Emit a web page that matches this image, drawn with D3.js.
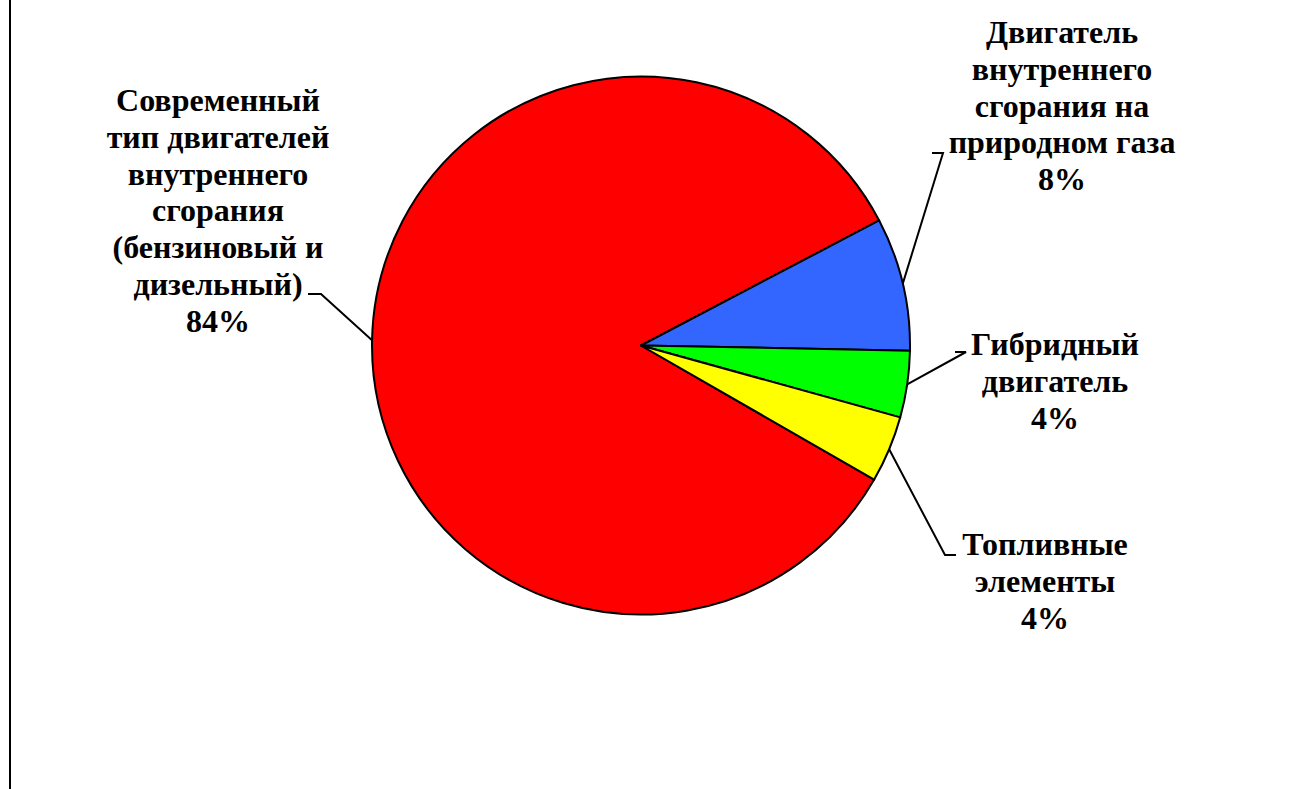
<!DOCTYPE html>
<html>
<head>
<meta charset="utf-8">
<script src="https://cdn.jsdelivr.net/npm/d3@7"></script>
<style>
  html, body { margin: 0; padding: 0; background: #fff; }
  svg { display: block; }
</style>
</head>
<body>
<svg id="chart" width="1309" height="789"></svg>
<script>
// Share of engine types
const categories = [
  "Современный тип двигателей внутреннего сгорания (бензиновый и дизельный)",
  "Двигатель внутреннего сгорания на природном газа",
  "Гибридный двигатель",
  "Топливные элементы"
];
const shares = [84, 8, 4, 4];
const labelLines = [
  ["Современный", "тип двигателей", "внутреннего", "сгорания", "(бензиновый и", "дизельный)"],
  ["Двигатель", "внутреннего", "сгорания на", "природном газа"],
  ["Гибридный", "двигатель"],
  ["Топливные", "элементы"]
];
const sliceColors = ["#FF0000", "#3366FF", "#00FF00", "#FFFF00"];

// Label placement: text centre, first baseline, leader elbow and tail end
const labelLayout = [
  { cx: 218, y0: 111, elbow: [321, 294], tail: 308 },
  { cx: 1062, y0: 43, elbow: [943, 153], tail: 932 },
  { cx: 1055, y0: 355, elbow: [966, 352], tail: 955 },
  { cx: 1045, y0: 555, elbow: [945, 555], tail: 956 }
];

const svg = d3.select("#chart");
const cx = 641, cy = 345.5, r = 269;
const lineH = 36.8;

// frame edge on the left
svg.append("line")
  .attr("x1", 10).attr("x2", 10).attr("y1", 0).attr("y2", 789)
  .attr("stroke", "#000").attr("stroke-width", 2);

const start = 119.9 * Math.PI / 180;
const pie = d3.pie().sort(null).value(d => d).startAngle(start).endAngle(start + 2 * Math.PI);
const arcs = pie(shares);

const arc = d3.arc().innerRadius(0).outerRadius(r);
const rim = d3.arc().innerRadius(r).outerRadius(r);

const g = svg.append("g").attr("transform", `translate(${cx},${cy})`);
g.selectAll("path.slice")
  .data(arcs)
  .join("path")
  .attr("class", "slice")
  .attr("d", arc)
  .attr("fill", (d, i) => sliceColors[i])
  .attr("stroke", "#000")
  .attr("stroke-width", 2)
  .attr("stroke-linejoin", "round");

// leader lines
arcs.forEach((d, i) => {
  const p = rim.centroid(d);
  const L = labelLayout[i];
  const pts = [[cx + p[0], cy + p[1]], L.elbow, [L.tail, L.elbow[1]]];
  svg.append("path")
    .attr("d", d3.line()(pts))
    .attr("fill", "none")
    .attr("stroke", "#000")
    .attr("stroke-width", 2);
});

// labels
const total = d3.sum(shares);
labelLines.forEach((lines, i) => {
  const L = labelLayout[i];
  const all = lines.concat([Math.round(shares[i] / total * 100) + "%"]);
  const t = svg.append("text")
    .attr("text-anchor", "middle")
    .attr("font-family", "Liberation Serif")
    .attr("font-weight", "bold")
    .attr("font-size", 32)
    .attr("fill", "#000");
  all.forEach((s, k) => {
    t.append("tspan").attr("x", L.cx).attr("y", L.y0 + k * lineH).text(s);
  });
});
</script>
</body>
</html>
